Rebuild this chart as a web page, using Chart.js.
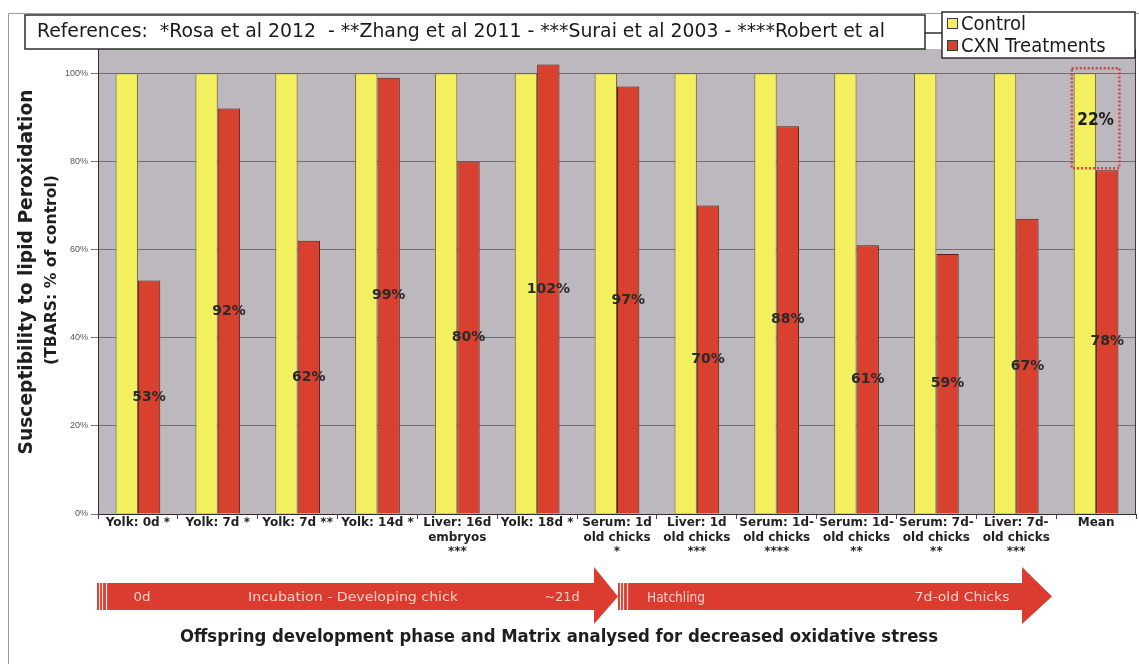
<!DOCTYPE html>
<html>
<head>
<meta charset="utf-8">
<script src="https://cdn.jsdelivr.net/npm/chart.js@4.4.1/dist/chart.umd.min.js"></script>
<style>
  html, body { margin: 0; padding: 0; background: #fff; }
  #wrap { width: 1139px; height: 664px; }
</style>
</head>
<body>
<div id="wrap"><canvas id="c" width="1139" height="664"></canvas></div>
<script>
// Sample / matrix analysed, with reference marker
const categories = [
  'Yolk: 0d *',
  'Yolk: 7d *',
  'Yolk: 7d **',
  'Yolk: 14d *',
  ['Liver: 16d', 'embryos', '***'],
  'Yolk: 18d *',
  ['Serum: 1d', 'old chicks', '*'],
  ['Liver: 1d', 'old chicks', '***'],
  ['Serum: 1d-', 'old chicks', '****'],
  ['Serum: 1d-', 'old chicks', '**'],
  ['Serum: 7d-', 'old chicks', '**'],
  ['Liver: 7d-', 'old chicks', '***'],
  'Mean'
];
// TBARS, % of control
const controlValues = [100, 100, 100, 100, 100, 100, 100, 100, 100, 100, 100, 100, 100];
const cxnValues = [53, 92, 62, 99, 80, 102, 97, 70, 88, 61, 59, 67, 78];
const yTickValues = [0, 20, 40, 60, 80, 100];

const seriesNames = ['Control', 'CXN Treatments'];
const referencesText = 'References:  *Rosa et al 2012  - **Zhang et al 2011 - ***Surai et al 2003 - ****Robert et al';
const yTitleLines = ['Susceptibility to lipid Peroxidation', '(TBARS: % of control)'];
const phaseText1 = ['0d', 'Incubation - Developing chick', '~21d'];
const phaseText2 = ['Hatchling', '7d-old Chicks'];
const captionText = 'Offspring development phase and Matrix analysed for decreased oxidative stress';

const FONT = '"DejaVu Sans", sans-serif';
const FONT_C = '"DejaVu Sans Condensed", "DejaVu Sans", sans-serif';
const YELLOW = '#f3ef5e';
const RED = '#d8402f';
const PLOT_GRAY = '#bcb8bd';

// Draw text centred at (cx, cy), stretched/squeezed horizontally to a given width
function fitText(ctx, text, cx, cy, width, weight, size, color, family) {
  ctx.save();
  ctx.font = `${weight} ${size}px ${family || FONT}`;
  const w = ctx.measureText(text).width;
  ctx.translate(cx, cy);
  ctx.scale(width / w, 1);
  ctx.fillStyle = color;
  ctx.textAlign = 'center';
  ctx.textBaseline = 'middle';
  ctx.fillText(text, 0, 0);
  ctx.restore();
}

const plotBackground = {
  id: 'plotBackground',
  beforeDraw(chart) {
    const { ctx, chartArea: a } = chart;
    ctx.save();
    ctx.fillStyle = '#ffffff';
    ctx.fillRect(0, 0, chart.width, chart.height);
    // outer frame
    ctx.strokeStyle = '#9a9a9a';
    ctx.lineWidth = 1;
    ctx.beginPath();
    ctx.moveTo(8.5, chart.height);
    ctx.lineTo(8.5, 13.5);
    ctx.lineTo(chart.width, 13.5);
    ctx.stroke();
    ctx.fillStyle = PLOT_GRAY;
    ctx.fillRect(a.left, a.top, a.right - a.left, a.bottom - a.top);
    ctx.restore();
  },
  afterDraw(chart) {
    const { ctx, chartArea: a } = chart;
    ctx.save();
    ctx.strokeStyle = '#3a3a3a';
    ctx.lineWidth = 1;
    ctx.beginPath();
    ctx.moveTo(a.right - 0.5, a.top);
    ctx.lineTo(a.right - 0.5, a.bottom);
    ctx.stroke();
    ctx.restore();
  }
};

const valueLabels = {
  id: 'valueLabels',
  afterDatasetsDraw(chart) {
    const { ctx } = chart;
    const m0 = chart.getDatasetMeta(0);
    const m1 = chart.getDatasetMeta(1);
    const ys = chart.scales.y;
    ctx.save();
    ctx.font = `bold 14px ${FONT}`;
    ctx.fillStyle = '#2a2a2a';
    ctx.textAlign = 'center';
    ctx.textBaseline = 'middle';
    m1.data.forEach((bar, i) => {
      ctx.fillText(cxnValues[i] + '%', bar.x, (bar.y + bar.base) / 2);
    });

    // reduction box on the mean pair
    const last = cxnValues.length - 1;
    const yb = m0.data[last], rb = m1.data[last];
    const left = yb.x - yb.width / 2 - 2;
    const right = rb.x + rb.width / 2 + 1;
    const top = ys.getPixelForValue(controlValues[last]) - 5;
    const bottom = ys.getPixelForValue(cxnValues[last]) - 2;
    ctx.strokeStyle = '#d9404a';
    ctx.lineWidth = 2.5;
    ctx.setLineDash([2, 2]);
    ctx.strokeRect(left, top, right - left, bottom - top);
    ctx.setLineDash([]);
    ctx.font = `bold 17px ${FONT_C}`;
    ctx.fillStyle = '#1e1e1e';
    ctx.fillText((controlValues[last] - cxnValues[last]) + '%', (left + right) / 2, (top + bottom) / 2 + 2);
    ctx.restore();
  }
};

function drawArrow(ctx, x0, x1, tip, bodyTop, bodyBot, headTop, headBot, color) {
  const mid = (bodyTop + bodyBot) / 2;
  ctx.fillStyle = color;
  ctx.beginPath();
  ctx.moveTo(x0, bodyTop);
  ctx.lineTo(x1, bodyTop);
  ctx.lineTo(x1, headTop);
  ctx.lineTo(tip, mid);
  ctx.lineTo(x1, headBot);
  ctx.lineTo(x1, bodyBot);
  ctx.lineTo(x0, bodyBot);
  ctx.closePath();
  ctx.fill();
  // stripes at the tail
  ctx.strokeStyle = '#fde8e4';
  ctx.lineWidth = 1.2;
  [2.5, 5.5, 9.5].forEach(d => {
    ctx.beginPath();
    ctx.moveTo(x0 + d, bodyTop);
    ctx.lineTo(x0 + d, bodyBot);
    ctx.stroke();
  });
}

const decorations = {
  id: 'decorations',
  afterDraw(chart) {
    const { ctx } = chart;
    ctx.save();

    // references box + connector to the legend
    ctx.fillStyle = '#ffffff';
    ctx.fillRect(25, 15, 900, 34);
    ctx.strokeStyle = '#2c2c2c';
    ctx.lineWidth = 1.5;
    ctx.strokeRect(25, 15, 900, 34);
    ctx.beginPath();
    ctx.moveTo(925, 33);
    ctx.lineTo(942, 33);
    ctx.stroke();
    fitText(ctx, referencesText, 461, 32, 848, 'normal', 19, '#1a1a1a', FONT_C);

    // legend
    ctx.fillStyle = '#ffffff';
    ctx.fillRect(942, 12, 193, 46);
    ctx.strokeStyle = '#2c2c2c';
    ctx.lineWidth = 1.5;
    ctx.strokeRect(942, 12, 193, 46);
    const swatches = [YELLOW, RED];
    seriesNames.forEach((name, i) => {
      const cy = 24 + i * 22;
      ctx.fillStyle = swatches[i];
      ctx.fillRect(947, cy - 6, 11, 11);
      ctx.strokeStyle = '#3a3a3a';
      ctx.lineWidth = 1;
      ctx.strokeRect(947.5, cy - 5.5, 10, 10);
      ctx.font = `normal 20px ${FONT_C}`;
      ctx.fillStyle = '#1a1a1a';
      ctx.textAlign = 'left';
      ctx.textBaseline = 'middle';
      ctx.fillText(name, 961, cy + 1);
    });

    // y-axis title
    ctx.save();
    ctx.translate(27, 272);
    ctx.rotate(-Math.PI / 2);
    fitText(ctx, yTitleLines[0], 0, 0, 365, 'bold', 20, '#1e1e1e', FONT_C);
    ctx.restore();
    ctx.save();
    ctx.translate(52, 270);
    ctx.rotate(-Math.PI / 2);
    fitText(ctx, yTitleLines[1], 0, 0, 190, 'bold', 16, '#1e1e1e', FONT_C);
    ctx.restore();

    // development phase arrows
    const arrowRed = '#dc3c30';
    drawArrow(ctx, 97, 594, 618, 583, 610, 567, 624, arrowRed);
    drawArrow(ctx, 618, 1022, 1052, 583, 610, 567, 624, arrowRed);
    const pc = '#f8d2ca';
    fitText(ctx, phaseText1[0], 142, 598, 17, 'normal', 13, pc);
    fitText(ctx, phaseText1[1], 353, 598, 210, 'normal', 13, pc);
    fitText(ctx, phaseText1[2], 562, 598, 35, 'normal', 13, pc);
    fitText(ctx, phaseText2[0], 676, 598, 58, 'normal', 14, pc, FONT_C);
    fitText(ctx, phaseText2[1], 962, 598, 95, 'normal', 13, pc);

    // caption
    fitText(ctx, captionText, 559, 638, 758, 'bold', 17, '#1e1e1e', FONT_C);
    ctx.restore();
  }
};

const ctx = document.getElementById('c').getContext('2d');
new Chart(ctx, {
  type: 'bar',
  data: {
    labels: categories,
    datasets: [
      {
        label: seriesNames[0],
        data: controlValues,
        backgroundColor: YELLOW,
        borderColor: '#6f6c2c',
        borderWidth: 1,
        categoryPercentage: 0.56,
        barPercentage: 1
      },
      {
        label: seriesNames[1],
        data: cxnValues,
        backgroundColor: RED,
        borderColor: '#5a1d14',
        borderWidth: 1,
        categoryPercentage: 0.56,
        barPercentage: 1
      }
    ]
  },
  options: {
    responsive: false,
    animation: false,
    devicePixelRatio: 1,
    layout: { padding: { top: 49, left: 0, right: 3, bottom: 0 } },
    plugins: { legend: { display: false }, tooltip: { enabled: false } },
    scales: {
      x: {
        grid: { display: true, drawOnChartArea: false, drawTicks: true, tickLength: 5, color: '#444', offset: true },
        border: { color: '#2e2e2e', width: 1 },
        ticks: {
          font: { family: FONT, size: 12, weight: 'bold', lineHeight: 1.2 },
          color: '#222',
          padding: -3,
          maxRotation: 0,
          minRotation: 0,
          autoSkip: false
        },
        afterFit(s) { s.height = 150; }
      },
      y: {
        min: 0,
        max: 105.5,
        ticks: {
          stepSize: 20,
          callback: v => v + '%',
          font: { family: '"Liberation Sans", Arial, sans-serif', size: 9 },
          color: '#555',
          padding: 3
        },
        grid: { color: '#707070', tickLength: 7, lineWidth: 1 },
        border: { color: '#2e2e2e', width: 1 },
        afterBuildTicks(s) { s.ticks = yTickValues.map(v => ({ value: v })); },
        afterFit(s) { s.width = 98; }
      }
    }
  },
  plugins: [plotBackground, valueLabels, decorations]
});
</script>
</body>
</html>
